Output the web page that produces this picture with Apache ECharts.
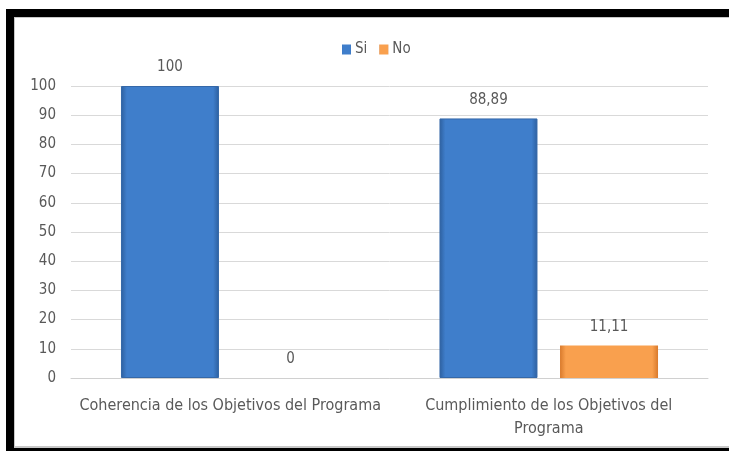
<!DOCTYPE html>
<html>
<head>
<meta charset="utf-8">
<script src="https://cdn.jsdelivr.net/npm/echarts@6/dist/echarts.min.js"></script>
<style>
  html, body { margin: 0; padding: 0; background: #fff; }
  #frame {
    position: absolute; left: 6px; top: 9px; width: 723px; height: 442px;
    box-sizing: border-box;
    border-top: 8px solid #000; border-left: 8px solid #000; border-bottom: 3px solid #000;
  }
  #frame-inner {
    position: absolute; left: 0; top: 0; right: 0; bottom: 0;
    border-top: 1px solid #c8c8c8; border-left: 1px solid #c8c8c8; border-bottom: 2px solid #c8c8c8;
  }
  #chart { position: absolute; left: 0; top: 0; width: 729px; height: 451px; }
</style>
</head>
<body>
<div id="frame"><div id="frame-inner"></div></div>
<div id="chart"></div>
<script>
// categorias y valores (porcentaje)
var categorias = ['Coherencia de los Objetivos del Programa', 'Cumplimiento de los Objetivos del\nPrograma'];
var valoresSi = [100, 88.89];
var valoresNo = [0, 11.11];
var ticksY = [0, 10, 20, 30, 40, 50, 60, 70, 80, 90, 100];

var fuente = "'DejaVu Sans Condensed', 'DejaVu Sans', sans-serif";
var gris = '#595959';

function degradado(borde, centro) {
  return new echarts.graphic.LinearGradient(0, 0, 1, 0, [
    {offset: 0, color: borde},
    {offset: 0.06, color: centro},
    {offset: 0.94, color: centro},
    {offset: 1, color: borde}
  ]);
}

function etiqueta(p) {
  return String(p.value).replace('.', ',');
}

var chart = echarts.init(document.getElementById('chart'));
chart.setOption({
  animation: false,
  textStyle: {fontFamily: fuente},
  legend: {
    top: 37, left: 337,
    itemWidth: 9, itemHeight: 10, itemGap: 12,
    icon: 'rect',
    itemStyle: {borderWidth: 0},
    textStyle: {color: gris, fontSize: 15, fontFamily: fuente, padding: [0, 0, 0, -1]},
    data: ['Si', 'No']
  },
  grid: {left: 71, right: 21, top: 86, bottom: 73},
  xAxis: {
    type: 'category',
    data: categorias,
    axisLine: {lineStyle: {color: '#d0d0d0'}},
    axisTick: {show: false},
    axisLabel: {color: gris, fontSize: 16, margin: 16, lineHeight: 23, interval: 0}
  },
  yAxis: {
    type: 'value',
    min: ticksY[0], max: ticksY[ticksY.length - 1], interval: 10,
    axisLine: {show: false},
    axisTick: {show: false},
    splitLine: {lineStyle: {color: '#d9d9d9'}},
    axisLabel: {color: gris, fontSize: 15, margin: 15}
  },
  series: [
    {
      name: 'Si', type: 'bar', data: valoresSi,
      barWidth: 98, barGap: '23%',
      itemStyle: {color: degradado('#2d5f9e', '#3f7ecb'), borderColor: '#3568a8', borderWidth: 1},
      label: {show: true, position: 'top', distance: 11, color: gris, fontSize: 15, formatter: etiqueta}
    },
    {
      name: 'No', type: 'bar', data: valoresNo,
      barWidth: 98,
      itemStyle: {color: degradado('#d97a2c', '#f9a04e'), borderWidth: 0},
      label: {show: true, position: 'top', distance: 11, color: gris, fontSize: 15, formatter: etiqueta}
    }
  ]
});
</script>
</body>
</html>
